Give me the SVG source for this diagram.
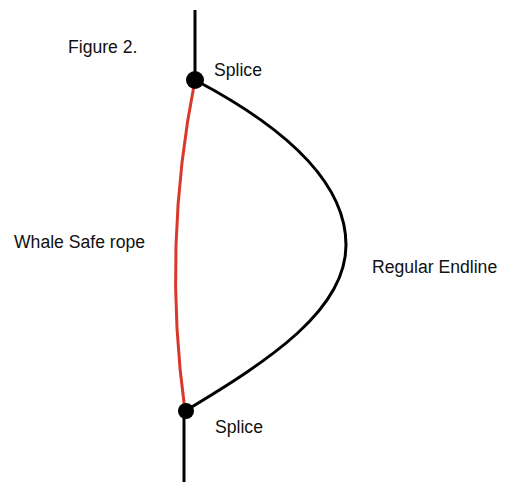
<svg xmlns="http://www.w3.org/2000/svg" width="506" height="482" viewBox="0 0 506 482">
<style>
text{font-family:"Liberation Sans",Arial,sans-serif;font-size:17.6px;fill:#111}
.rope{fill:none;stroke-width:3}
</style>
<rect width="506" height="482" fill="#fff"/>
<g id="connectors">
<line class="rope" x1="195" y1="10" x2="195" y2="80" stroke="#000"/>
<line class="rope" x1="184" y1="411" x2="184" y2="482" stroke="#000"/>
<path class="rope" d="M195,80 Q162,245 185,411" stroke="#d9382a"/>
<path class="rope" d="M195,80 C290,130 346,185 346,245 C346,310 270,360 185,411" stroke="#000"/>
</g>
<g id="splice-top"><circle cx="195" cy="80" r="9" fill="#000"/><text x="214" y="76">Splice</text></g>
<g id="splice-bottom"><circle cx="186" cy="411" r="8" fill="#000"/><text x="215" y="433">Splice</text></g>
<g id="title"><text x="68" y="53">Figure 2.</text></g>
<g id="whale-safe"><text x="14" y="248">Whale Safe rope</text></g>
<g id="endline"><text x="372" y="273">Regular Endline</text></g>
</svg>
